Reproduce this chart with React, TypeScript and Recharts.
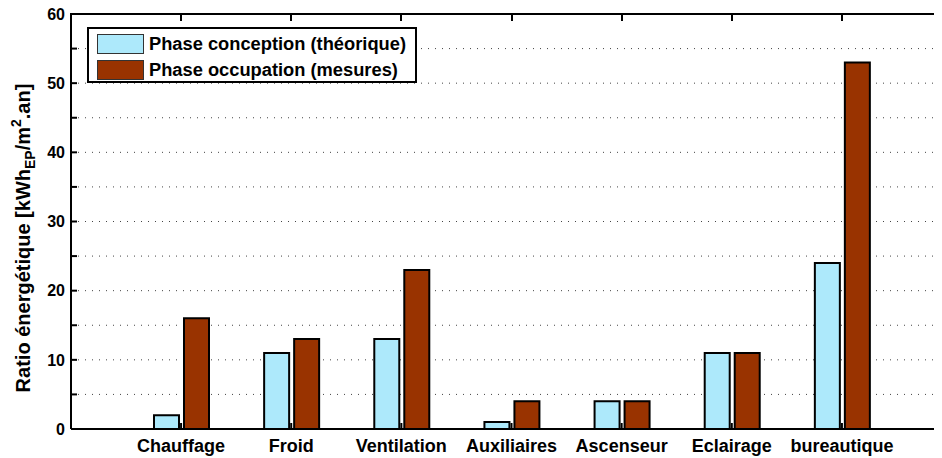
import React from 'react';
import { BarChart, Bar, XAxis, YAxis, CartesianGrid } from 'recharts';

const categories = ['Chauffage', 'Froid', 'Ventilation', 'Auxiliaires', 'Ascenseur', 'Eclairage', 'bureautique'];
const conception = [2, 11, 13, 1, 4, 11, 24];
const occupation = [16, 13, 23, 4, 4, 11, 53];
const yTicks = [0, 5, 10, 15, 20, 25, 30, 35, 40, 45, 50, 55, 60];
const seriesNames = ['Phase conception (théorique)', 'Phase occupation (mesures)'];
const yMax = 60;

const data = categories.map((c, i) => ({ cat: c, conception: conception[i], occupation: occupation[i] }));

const FONT = '"Liberation Sans", Arial, Helvetica, sans-serif';
const CYAN = '#ade9fb';
const BROWN = '#993300';
const seriesColors = [CYAN, BROWN];

const W = 942;
const H = 458;
const PLOT_LEFT = 71;
const PLOT_TOP = 14;
const PAD_L = 55;
const PAD_R = 45;
const BAND = (W - PLOT_LEFT - PAD_L - PAD_R) / categories.length;

const LegendBox = () => (
  <div
    style={{
      position: 'absolute',
      left: 87,
      top: 27,
      border: '2px solid #000',
      background: '#fff',
      width: 326,
      height: 52,
      boxSizing: 'content-box',
      fontFamily: FONT,
      fontWeight: 'bold',
      fontSize: 18.3,
      color: '#000',
    }}
  >
    {seriesColors.map((col, i) => (
      <div
        key={i}
        style={{ display: 'flex', alignItems: 'center', position: 'absolute', left: 8, top: 5 + i * 26, height: 20 }}
      >
        <div style={{ width: 45, height: 18, background: col, border: '1px solid #333', flex: 'none' }} />
        <span style={{ marginLeft: 5, whiteSpace: 'nowrap', lineHeight: '20px' }}>{seriesNames[i]}</span>
      </div>
    ))}
  </div>
);

const TopFrame = () => (
  <>
    <div style={{ position: 'absolute', left: PLOT_LEFT - 1, top: PLOT_TOP - 1, width: W - PLOT_LEFT + 1, height: 2, background: '#000' }} />
    {categories.map((c, i) => (
      <div
        key={c}
        style={{
          position: 'absolute',
          left: PLOT_LEFT + PAD_L + BAND * (i + 0.5) - 1,
          top: PLOT_TOP,
          width: 2,
          height: 7,
          background: '#000',
        }}
      />
    ))}
  </>
);

const YLabel = () => (
  <text
    x={30}
    y={238}
    transform="rotate(-90, 30, 238)"
    textAnchor="middle"
    fontFamily={FONT}
    fontWeight="bold"
    fontSize={20}
    fill="#000"
  >
    Ratio énergétique [kWh
    <tspan fontSize={14} dy={5}>EP</tspan>
    <tspan dy={-5}>/m</tspan>
    <tspan fontSize={14} dy={-9}>2</tspan>
    <tspan dy={9}>.an]</tspan>
  </text>
);

export default function App() {
  return (
    <div style={{ position: 'relative', margin: '-8px 0 0 -8px', width: W, height: H }}>
      <BarChart
        width={W}
        height={H}
        data={data}
        margin={{ top: PLOT_TOP, right: 0, bottom: 0, left: 0 }}
        barSize={25}
        barGap={5}
      >
        <CartesianGrid horizontal vertical={false} stroke="#444" strokeDasharray="1 6" />
        <XAxis
          dataKey="cat"
          height={29}
          padding={{ left: PAD_L, right: PAD_R }}
          axisLine={{ stroke: '#000', strokeWidth: 2 }}
          tickLine={{ stroke: '#000', strokeWidth: 2 }}
          tickSize={-6}
          tickMargin={16}
          tick={{ fontFamily: FONT, fontWeight: 'bold', fontSize: 18, fill: '#000' }}
          interval={0}
        />
        <YAxis
          width={PLOT_LEFT}
          domain={[0, yMax]}
          ticks={yTicks}
          interval={0}
          axisLine={{ stroke: '#000', strokeWidth: 2 }}
          tickLine={{ stroke: '#000', strokeWidth: 2 }}
          tickSize={-6}
          tickMargin={12}
          tickFormatter={(v: number) => (v % 10 === 0 ? String(v) : '')}
          tick={{ fontFamily: FONT, fontWeight: 'bold', fontSize: 16, fill: '#000' }}
          label={<YLabel />}
        />
        <Bar dataKey="conception" fill={CYAN} stroke="#000" strokeWidth={2} isAnimationActive={false} />
        <Bar dataKey="occupation" fill={BROWN} stroke="#000" strokeWidth={2} isAnimationActive={false} />
      </BarChart>
      <TopFrame />
      <LegendBox />
    </div>
  );
}
